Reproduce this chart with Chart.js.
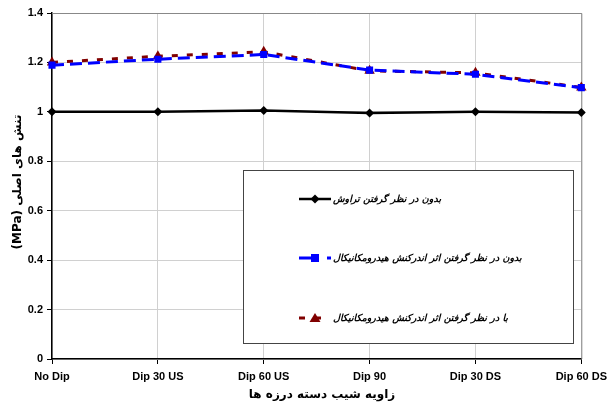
<!DOCTYPE html>
<html>
<head>
<meta charset="utf-8">
<script src="https://cdn.jsdelivr.net/npm/chart.js@4"></script>
<style>
  html, body { margin: 0; padding: 0; background: #fff; }
  #wrap { width: 613px; height: 405px; }
</style>
</head>
<body>
<div id="wrap"><canvas id="stress-chart" width="613" height="405"></canvas></div>
<script>
// categories and series
const categories = ['No Dip', 'Dip 30 US', 'Dip 60 US', 'Dip 90', 'Dip 30 DS', 'Dip 60 DS'];
const noSeepage = [1.0, 1.0, 1.005, 0.995, 1.0, 0.997];
const noCoupling = [1.189, 1.213, 1.232, 1.169, 1.152, 1.098];
const withCoupling = [1.2, 1.225, 1.243, 1.166, 1.158, 1.099];
const yTicks = [0, 0.2, 0.4, 0.6, 0.8, 1, 1.2, 1.4];

const seriesNames = [
  'بدون در نظر گرفتن تراوش',
  'بدون در نظر گرفتن اثر اندرکنش هیدرومکانیکال',
  'با در نظر گرفتن اثر اندرکنش هیدرومکانیکال'
];
const yTitle = 'تنش های اصلی (MPa)';
const xTitle = 'زاویه شیب دسته درزه ها';

const faFont = '"DejaVu Sans", sans-serif';

// legend box + axis titles drawn by hand
const extras = {
  id: 'extras',
  afterDraw(chart) {
    const ctx = chart.ctx;
    const ds = chart.data.datasets;
    ctx.save();

    // legend frame
    ctx.fillStyle = '#fff';
    ctx.fillRect(243, 170, 330, 173);
    ctx.strokeStyle = '#444';
    ctx.lineWidth = 1;
    ctx.strokeRect(243.5, 170.5, 330, 173);

    const rows = [199, 258, 318];
    rows.forEach((y, i) => {
      const d = ds[i];
      ctx.save();
      ctx.strokeStyle = d.borderColor;
      ctx.lineWidth = d.borderWidth;
      ctx.setLineDash(i === 0 ? [] : (i === 1 ? [12, 16] : [6, 10]));
      ctx.beginPath();
      ctx.moveTo(299, y);
      ctx.lineTo(331, y);
      ctx.stroke();
      ctx.restore();

      ctx.fillStyle = d.pointBackgroundColor;
      ctx.beginPath();
      if (i === 0) {
        ctx.moveTo(315, y - 4.5); ctx.lineTo(319.5, y); ctx.lineTo(315, y + 4.5); ctx.lineTo(310.5, y);
      } else if (i === 1) {
        ctx.rect(311, y - 4, 8, 8);
      } else {
        ctx.moveTo(315, y - 5); ctx.lineTo(320.5, y + 4); ctx.lineTo(309.5, y + 4);
      }
      ctx.closePath();
      ctx.fill();

      ctx.fillStyle = '#000';
      ctx.font = 'italic bold 9.5px ' + faFont;
      ctx.direction = 'rtl';
      ctx.textAlign = 'left';
      ctx.textBaseline = 'middle';
      ctx.fillText(seriesNames[i], 333, y + 1);
    });

    // axis titles
    ctx.fillStyle = '#000';
    ctx.font = 'bold 12px ' + faFont;
    ctx.direction = 'rtl';
    ctx.textAlign = 'center';
    ctx.textBaseline = 'middle';
    ctx.fillText(xTitle, 322, 395);

    ctx.translate(18, 182);
    ctx.rotate(-Math.PI / 2);
    ctx.fillText(yTitle, 0, 0);
    ctx.restore();
  }
};

// grey frame on top and right of the plot area
const frame = {
  id: 'frame',
  beforeDatasetsDraw(chart) {
    const a = chart.chartArea, ctx = chart.ctx;
    ctx.save();
    ctx.strokeStyle = '#888';
    ctx.lineWidth = 1;
    ctx.beginPath();
    ctx.moveTo(a.left, a.top + 0.5);
    ctx.lineTo(a.right + 0.5, a.top + 0.5);
    ctx.lineTo(a.right + 0.5, a.bottom);
    ctx.stroke();
    ctx.restore();
  }
};

const tickFont = { family: '"Liberation Sans", Arial, sans-serif', size: 11, weight: 'bold' };

new Chart(document.getElementById('stress-chart'), {
  type: 'line',
  data: {
    labels: categories,
    datasets: [{
      data: noSeepage,
      borderColor: '#000',
      borderWidth: 2.5,
      pointStyle: 'rectRot',
      pointRadius: 4.5,
      pointBackgroundColor: '#000',
      pointBorderWidth: 0,
      tension: 0
    }, {
      data: noCoupling,
      borderColor: '#0000ff',
      borderWidth: 3,
      borderDash: [12, 6],
      pointStyle: 'rect',
      pointRadius: 5,
      pointBackgroundColor: '#0000ff',
      pointBorderWidth: 0,
      tension: 0
    }, {
      data: withCoupling,
      borderColor: '#800000',
      borderWidth: 3,
      borderDash: [6, 9],
      pointStyle: 'triangle',
      pointRadius: 6,
      pointBackgroundColor: '#800000',
      pointBorderWidth: 0,
      tension: 0
    }]
  },
  options: {
    responsive: false,
    animation: false,
    layout: { padding: { left: 0, right: 30, top: 13, bottom: 0 } },
    plugins: {
      legend: { display: false },
      tooltip: { enabled: false }
    },
    scales: {
      x: {
        offset: false,
        grid: { color: '#d0d0d0', tickColor: '#000', tickLength: 5, lineWidth: 1 },
        border: { color: '#000', width: 1.5 },
        ticks: { color: '#000', font: tickFont, padding: 6, maxRotation: 0, autoSkip: false },
        afterFit: s => { s.height = 46; }
      },
      y: {
        min: 0,
        max: 1.4,
        afterBuildTicks: s => { s.ticks = yTicks.map(v => ({ value: v })); },
        grid: { color: '#d0d0d0', tickColor: '#000', tickLength: 5, lineWidth: 1 },
        border: { color: '#000', width: 1.5 },
        ticks: {
          color: '#000',
          font: tickFont,
          padding: 4,
          callback: v => String(Math.round(v * 10) / 10)
        },
        afterFit: s => { s.width = 52; }
      }
    }
  },
  plugins: [frame, extras]
});
</script>
</body>
</html>
